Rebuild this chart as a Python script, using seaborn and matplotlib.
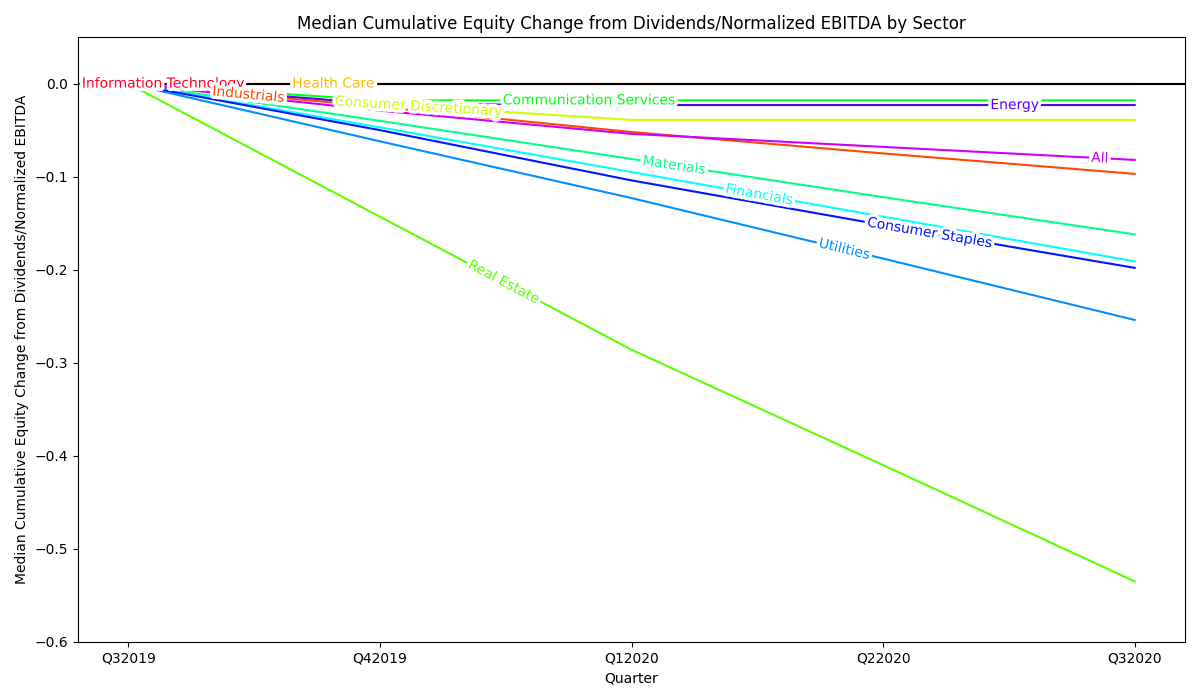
import numpy as np
import pandas as pd
import matplotlib
matplotlib.use("Agg")
import matplotlib.pyplot as plt
import seaborn as sns
from matplotlib import patheffects as pe

quarters = ["Q32019", "Q42019", "Q12020", "Q22020", "Q32020"]

sectors = ["Information Technology", "Industrials", "Health Care",
           "Consumer Discretionary", "Real Estate", "Communication Services",
           "Materials", "Financials", "Utilities", "Consumer Staples",
           "Energy", "All"]

info_tech = [0.0, 0.0, 0.0, 0.0, 0.0]
industrials = [0.0, -0.025, -0.052, -0.075, -0.097]
health_care = [0.0, 0.0, 0.0, 0.0, 0.0]
consumer_disc = [0.0, -0.022, -0.039, -0.039, -0.039]
real_estate = [0.0, -0.143, -0.286, -0.410, -0.535]
comm_services = [0.0, -0.018, -0.018, -0.018, -0.018]
materials = [0.0, -0.040, -0.081, -0.122, -0.162]
financials = [0.0, -0.047, -0.095, -0.143, -0.191]
utilities = [0.0, -0.062, -0.123, -0.188, -0.254]
consumer_staples = [0.0, -0.050, -0.104, -0.152, -0.198]
energy = [0.0, -0.022, -0.023, -0.023, -0.023]
all_sectors = [0.0, -0.029, -0.054, -0.068, -0.082]

series = [info_tech, industrials, health_care, consumer_disc, real_estate,
          comm_services, materials, financials, utilities, consumer_staples,
          energy, all_sectors]

rows = []
for name, vals in zip(sectors, series):
    for q, v in zip(quarters, vals):
        rows.append({"Sector": name, "Quarter": q, "Value": v})
df = pd.DataFrame(rows)

cmap = plt.get_cmap("gist_rainbow")
palette = {name: cmap(i / 12) for i, name in enumerate(sectors)}

fig, ax = plt.subplots(figsize=(12, 7), dpi=100)
fig.subplots_adjust(left=0.065, right=0.9875, top=0.947, bottom=0.083)

sns.lineplot(data=df, x="Quarter", y="Value", hue="Sector", hue_order=sectors,
             palette=palette, legend=False, sort=False, errorbar=None,
             linewidth=1.5, ax=ax)
ax.axhline(0, color="black", linewidth=1.5)

ax.set_xlim(-0.2, 4.2)
ax.set_ylim(-0.6, 0.05)
ax.set_title("Median Cumulative Equity Change from Dividends/Normalized EBITDA by Sector", fontsize=12)
ax.set_xlabel("Quarter")
ax.set_ylabel("Median Cumulative Equity Change from Dividends/Normalized EBITDA")

pos = np.arange(len(quarters))
label_x = np.linspace(-0.2, 4.2, len(sectors) + 2)[1:-1]
for i, (name, vals) in enumerate(zip(sectors, series)):
    x = label_x[i]
    y = float(np.interp(x, pos, vals))
    k = int(min(max(np.floor(x), 0), len(quarters) - 2))
    p1 = ax.transData.transform((k, vals[k]))
    p2 = ax.transData.transform((k + 1, vals[k + 1]))
    ang = np.degrees(np.arctan2(p2[1] - p1[1], p2[0] - p1[0]))
    ax.text(x, y, name, color=palette[name], ha="center", va="center",
            rotation=ang, rotation_mode="anchor", fontsize=10, zorder=2.5,
            path_effects=[pe.Stroke(linewidth=5, foreground="white"), pe.Normal()])

fig.savefig("out.png", dpi=100)
